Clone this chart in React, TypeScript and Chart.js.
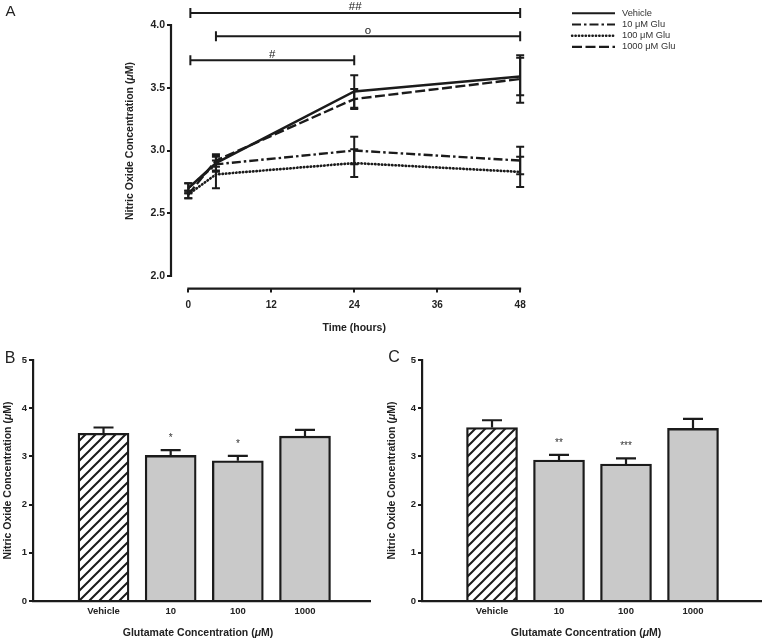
import React, { useEffect, useRef } from 'react';
import { Chart, registerables } from 'chart.js';

Chart.register(...registerables);

const FONT = "'Liberation Sans', Arial, Helvetica, sans-serif";
const INK = '#1b1b1b';
const TEXT = '#222222';
const GRAY = '#c9c9c9';

// ---------- Panel A data (time course) ----------
const timePointsH = [0, 4, 24, 48];
const seriesLabels = ['Vehicle', '10 μM Glu', '100 μM Glu', '1000 μM Glu'];
const vehicleMean = [2.70, 2.90, 3.47, 3.59];
const vehicleSem = [0.04, 0.06, 0.13, 0.15];
const glu10Mean = [2.70, 2.89, 3.00, 2.92];
const glu10Sem = [0.04, 0.06, 0.11, 0.11];
const glu100Mean = [2.65, 2.81, 2.90, 2.83];
const glu100Sem = [0.03, 0.11, 0.11, 0.12];
const glu1000Mean = [2.65, 2.92, 3.41, 3.57];
const glu1000Sem = [0.03, 0.05, 0.08, 0.19];
const timeTicks = [0, 12, 24, 36, 48];
const noTicksA = [2.0, 2.5, 3.0, 3.5, 4.0];

const bracketStart = [0.3, 4, 0.3];
const bracketEnd = [48, 48, 24];
const bracketLevel = [4.096, 3.91, 3.72];
const bracketMark = ['##', 'o', '#'];

// ---------- Panels B / C data ----------
const glutamateCategories = ['Vehicle', '10', '100', '1000'];
const mean24h = [3.48, 3.02, 2.91, 3.42];
const sem24h = [0.12, 0.11, 0.10, 0.13];
const stars24h = ['', '*', '*', ''];
const mean48h = [3.60, 2.925, 2.84, 3.58];
const sem48h = [0.15, 0.105, 0.12, 0.20];
const stars48h = ['', '**', '***', ''];
const noTicksBar = [0, 1, 2, 3, 4, 5];

const seriesMeans = [vehicleMean, glu10Mean, glu100Mean, glu1000Mean];
const seriesSems = [vehicleSem, glu10Sem, glu100Sem, glu1000Sem];
const seriesDash = [[], [9, 3, 2.5, 3], [0.4, 3.0], [10, 3.5]];
const seriesCap = ['butt', 'butt', 'round', 'butt'];
const seriesWidth = [2.4, 2.4, 2.7, 2.4];

function drawRich(ctx: CanvasRenderingContext2D, parts: [string, string][], x: number, y: number, rotate: boolean) {
  ctx.save();
  ctx.translate(x, y);
  if (rotate) ctx.rotate(-Math.PI / 2);
  let total = 0;
  for (const [t, f] of parts) {
    ctx.font = f;
    total += ctx.measureText(t).width;
  }
  let cx = -total / 2;
  ctx.textBaseline = 'middle';
  ctx.textAlign = 'left';
  ctx.fillStyle = TEXT;
  for (const [t, f] of parts) {
    ctx.font = f;
    ctx.fillText(t, cx, 0);
    cx += ctx.measureText(t).width;
  }
  ctx.restore();
}

const TITLE_B = `bold 10.5px ${FONT}`;
const TITLE_I = `italic bold 10.5px ${FONT}`;
const noTitleParts: [string, string][] = [
  ['Nitric Oxide Concentration (', TITLE_B],
  ['μ', TITLE_I],
  ['M)', TITLE_B],
];
const gluTitleParts: [string, string][] = [
  ['Glutamate Concentration (', TITLE_B],
  ['μ', TITLE_I],
  ['M)', TITLE_B],
];

function makeHatch(): CanvasPattern | string {
  const s = 10;
  const c = document.createElement('canvas');
  c.width = s;
  c.height = s;
  const g = c.getContext('2d');
  if (!g) return '#ffffff';
  g.fillStyle = '#ffffff';
  g.fillRect(0, 0, s, s);
  g.strokeStyle = INK;
  g.lineWidth = 2.0;
  g.beginPath();
  g.moveTo(-1, s + 1);
  g.lineTo(s + 1, -1);
  g.moveTo(-2, 2);
  g.lineTo(2, -2);
  g.moveTo(s - 2, s + 2);
  g.lineTo(s + 2, s - 2);
  g.stroke();
  const p = g.createPattern(c, 'repeat');
  return p || '#ffffff';
}

function lineConfig(): any {
  const A = { width: 767, height: 340, left: 171, top: 12.45, right: 534, bottom: 288.6 };
  const extras = {
    id: 'panelAExtras',
    afterDatasetsDraw(chart: any) {
      const ctx: CanvasRenderingContext2D = chart.ctx;
      const xs = chart.scales.x;
      const ys = chart.scales.y;
      ctx.save();
      ctx.strokeStyle = INK;
      ctx.lineWidth = 2;
      ctx.setLineDash([]);
      seriesMeans.forEach((m, s) => {
        timePointsH.forEach((t, i) => {
          const x = xs.getPixelForValue(t);
          const y1 = ys.getPixelForValue(m[i] + seriesSems[s][i]);
          const y2 = ys.getPixelForValue(m[i] - seriesSems[s][i]);
          ctx.beginPath();
          ctx.moveTo(x, y1);
          ctx.lineTo(x, y2);
          ctx.moveTo(x - 4, y1);
          ctx.lineTo(x + 4, y1);
          ctx.moveTo(x - 4, y2);
          ctx.lineTo(x + 4, y2);
          ctx.stroke();
        });
      });
      ctx.restore();
    },
    afterDraw(chart: any) {
      const ctx: CanvasRenderingContext2D = chart.ctx;
      const xs = chart.scales.x;
      const ys = chart.scales.y;
      const ca = chart.chartArea;
      ctx.save();
      ctx.strokeStyle = INK;
      ctx.lineWidth = 2.2;
      ctx.setLineDash([]);
      ctx.beginPath();
      ctx.moveTo(ca.left, ys.getPixelForValue(noTicksA[0]) + 1);
      ctx.lineTo(ca.left, ys.getPixelForValue(noTicksA[noTicksA.length - 1]) - 1);
      ctx.moveTo(xs.getPixelForValue(timeTicks[0]) - 1, ca.bottom);
      ctx.lineTo(xs.getPixelForValue(timeTicks[timeTicks.length - 1]) + 1, ca.bottom);
      ctx.stroke();
      ctx.lineWidth = 2;
      bracketMark.forEach((mark, k) => {
        const x1 = xs.getPixelForValue(bracketStart[k]);
        const x2 = xs.getPixelForValue(bracketEnd[k]);
        const y = ys.getPixelForValue(bracketLevel[k]);
        ctx.beginPath();
        ctx.moveTo(x1, y);
        ctx.lineTo(x2, y);
        ctx.moveTo(x1, y - 5);
        ctx.lineTo(x1, y + 5);
        ctx.moveTo(x2, y - 5);
        ctx.lineTo(x2, y + 5);
        ctx.stroke();
        ctx.fillStyle = TEXT;
        ctx.font = `11.5px ${FONT}`;
        ctx.textAlign = 'center';
        ctx.textBaseline = 'alphabetic';
        ctx.fillText(mark, (x1 + x2) / 2, y - 2.5);
      });
      chart.data.datasets.forEach((ds: any, s: number) => {
        const y = 13.3 + s * 11.2;
        ctx.beginPath();
        ctx.setLineDash(ds.borderDash || []);
        ctx.lineCap = ds.borderCapStyle || 'butt';
        ctx.lineWidth = ds.borderWidth - 0.3;
        ctx.moveTo(572, y);
        ctx.lineTo(615, y);
        ctx.stroke();
        ctx.setLineDash([]);
        ctx.lineCap = 'butt';
        ctx.fillStyle = '#333333';
        ctx.font = `9.3px ${FONT}`;
        ctx.textAlign = 'left';
        ctx.textBaseline = 'middle';
        ctx.fillText(ds.label, 622, y);
      });
      ctx.fillStyle = TEXT;
      ctx.font = `15px ${FONT}`;
      ctx.textAlign = 'center';
      ctx.textBaseline = 'middle';
      ctx.fillText('A', 10.5, 12);
      ctx.restore();
      drawRich(ctx, noTitleParts, 130, 141, true);
      drawRich(ctx, [['Time (hours)', TITLE_B]], xs.getPixelForValue(24), 328, false);
    },
  };
  return {
    type: 'line',
    data: {
      datasets: seriesLabels.map((label, s) => ({
        label,
        data: timePointsH.map((t, i) => ({ x: t, y: seriesMeans[s][i] })),
        borderColor: INK,
        backgroundColor: INK,
        borderWidth: seriesWidth[s],
        borderDash: seriesDash[s],
        borderCapStyle: seriesCap[s],
        pointRadius: 0,
        tension: 0,
        fill: false,
      })),
    },
    options: {
      responsive: false,
      maintainAspectRatio: false,
      animation: false,
      devicePixelRatio: 1,
      layout: { padding: { left: 0, top: A.top, right: A.width - A.right, bottom: 0 } },
      plugins: { legend: { display: false }, tooltip: { enabled: false }, title: { display: false } },
      scales: {
        x: {
          type: 'linear',
          min: -2.5,
          max: 50,
          afterBuildTicks: (sc: any) => { sc.ticks = timeTicks.map((v) => ({ value: v })); },
          afterFit: (sc: any) => { sc.height = A.height - A.bottom; },
          ticks: { color: TEXT, font: { family: FONT, size: 10, weight: 'bold' }, padding: 6.5, autoSkip: false, maxRotation: 0 },
          grid: { display: true, drawOnChartArea: false, drawTicks: true, tickLength: 4, color: INK, lineWidth: 2 },
          border: { display: false },
        },
        y: {
          type: 'linear',
          min: 1.9,
          max: 4.1,
          afterBuildTicks: (sc: any) => { sc.ticks = noTicksA.map((v) => ({ value: v })); },
          afterFit: (sc: any) => { sc.width = A.left; },
          ticks: { color: TEXT, font: { family: FONT, size: 10.5, weight: 'bold' }, padding: 2, callback: (v: any) => Number(v).toFixed(1) },
          grid: { display: true, drawOnChartArea: false, drawTicks: true, tickLength: 4, color: INK, lineWidth: 2 },
          border: { display: false },
        },
      },
    },
    plugins: [extras],
  };
}

interface BarGeom {
  width: number; height: number; left: number; top: number; right: number; bottom: number;
  xmin: number; xmax: number; letter: string; letterX: number; letterY: number; yTitleX: number; xTitleX: number;
}

function barConfig(means: number[], sems: number[], stars: string[], g: BarGeom, hatch: any): any {
  const extras = {
    id: 'barExtras' + g.letter,
    afterDatasetsDraw(chart: any) {
      const ctx: CanvasRenderingContext2D = chart.ctx;
      const ys = chart.scales.y;
      const meta = chart.getDatasetMeta(0);
      ctx.save();
      ctx.strokeStyle = INK;
      ctx.lineWidth = 2.2;
      meta.data.forEach((el: any, i: number) => {
        const x = el.x;
        const yTop = ys.getPixelForValue(means[i] + sems[i]);
        ctx.beginPath();
        ctx.moveTo(x, el.y);
        ctx.lineTo(x, yTop);
        ctx.moveTo(x - 10, yTop);
        ctx.lineTo(x + 10, yTop);
        ctx.stroke();
        if (stars[i]) {
          ctx.fillStyle = '#333333';
          ctx.font = `10px ${FONT}`;
          ctx.textAlign = 'center';
          ctx.textBaseline = 'alphabetic';
          ctx.fillText(stars[i], x, yTop - 9);
        }
      });
      ctx.restore();
    },
    afterDraw(chart: any) {
      const ctx: CanvasRenderingContext2D = chart.ctx;
      const ca = chart.chartArea;
      ctx.save();
      ctx.fillStyle = TEXT;
      ctx.font = `16px ${FONT}`;
      ctx.textAlign = 'center';
      ctx.textBaseline = 'middle';
      ctx.fillText(g.letter, g.letterX, g.letterY);
      ctx.restore();
      drawRich(ctx, noTitleParts, g.yTitleX, (ca.top + ca.bottom) / 2, true);
      drawRich(ctx, gluTitleParts, g.xTitleX, 293, false);
    },
  };
  return {
    type: 'bar',
    data: {
      datasets: [{
        data: means.map((v, i) => ({ x: i, y: v })),
        backgroundColor: [hatch, GRAY, GRAY, GRAY],
        borderColor: INK,
        borderWidth: 2.3,
        borderSkipped: 'bottom',
        barThickness: 51,
      }],
    },
    options: {
      responsive: false,
      maintainAspectRatio: false,
      animation: false,
      devicePixelRatio: 1,
      layout: { padding: { left: 0, top: g.top, right: g.width - g.right, bottom: 0 } },
      plugins: { legend: { display: false }, tooltip: { enabled: false } },
      scales: {
        x: {
          type: 'linear',
          min: g.xmin,
          max: g.xmax,
          offset: false,
          afterBuildTicks: (sc: any) => { sc.ticks = glutamateCategories.map((_, i) => ({ value: i })); },
          afterFit: (sc: any) => { sc.height = g.height - g.bottom; },
          ticks: {
            color: TEXT,
            font: { family: FONT, size: 9.5, weight: 'bold' },
            padding: 5,
            autoSkip: false,
            maxRotation: 0,
            callback: (v: any) => glutamateCategories[Math.round(Number(v))] ?? '',
          },
          grid: { display: true, offset: false, drawOnChartArea: false, drawTicks: false },
          border: { display: true, width: 2.2, color: INK },
        },
        y: {
          type: 'linear',
          min: 0,
          max: 5,
          afterBuildTicks: (sc: any) => { sc.ticks = noTicksBar.map((v) => ({ value: v })); },
          afterFit: (sc: any) => { sc.width = g.left; },
          ticks: { color: TEXT, font: { family: FONT, size: 9.5, weight: 'bold' }, padding: 2 },
          grid: { display: true, drawOnChartArea: false, drawTicks: true, tickLength: 4, color: INK, lineWidth: 2 },
          border: { display: true, width: 2.2, color: INK },
        },
      },
    },
    plugins: [extras],
  };
}

const geomB: BarGeom = {
  width: 384, height: 301, left: 33, top: 20, right: 370, bottom: 261,
  xmin: -1.05, xmax: 3.968, letter: 'B', letterX: 10, letterY: 19, yTitleX: 8, xTitleX: 198,
};
const geomC: BarGeom = {
  width: 383, height: 301, left: 38, top: 20, right: 377, bottom: 261,
  xmin: -1.045, xmax: 4.015, letter: 'C', letterX: 10, letterY: 18, yTitleX: 8, xTitleX: 202,
};

export default function App() {
  const refA = useRef<HTMLCanvasElement>(null);
  const refB = useRef<HTMLCanvasElement>(null);
  const refC = useRef<HTMLCanvasElement>(null);

  useEffect(() => {
    const hatch = makeHatch();
    const a = new Chart(refA.current as HTMLCanvasElement, lineConfig());
    const b = new Chart(refB.current as HTMLCanvasElement, barConfig(mean24h, sem24h, stars24h, geomB, hatch));
    const c = new Chart(refC.current as HTMLCanvasElement, barConfig(mean48h, sem48h, stars48h, geomC, hatch));
    return () => {
      a.destroy();
      b.destroy();
      c.destroy();
    };
  }, []);

  return (
    <div style={{ position: 'absolute', left: 0, top: 0, width: 767, height: 641, background: '#ffffff', overflow: 'hidden' }}>
      <canvas ref={refA} width={767} height={340} style={{ position: 'absolute', left: 0, top: 0, width: 767, height: 340 }} />
      <canvas ref={refB} width={384} height={301} style={{ position: 'absolute', left: 0, top: 340, width: 384, height: 301 }} />
      <canvas ref={refC} width={383} height={301} style={{ position: 'absolute', left: 384, top: 340, width: 383, height: 301 }} />
    </div>
  );
}
